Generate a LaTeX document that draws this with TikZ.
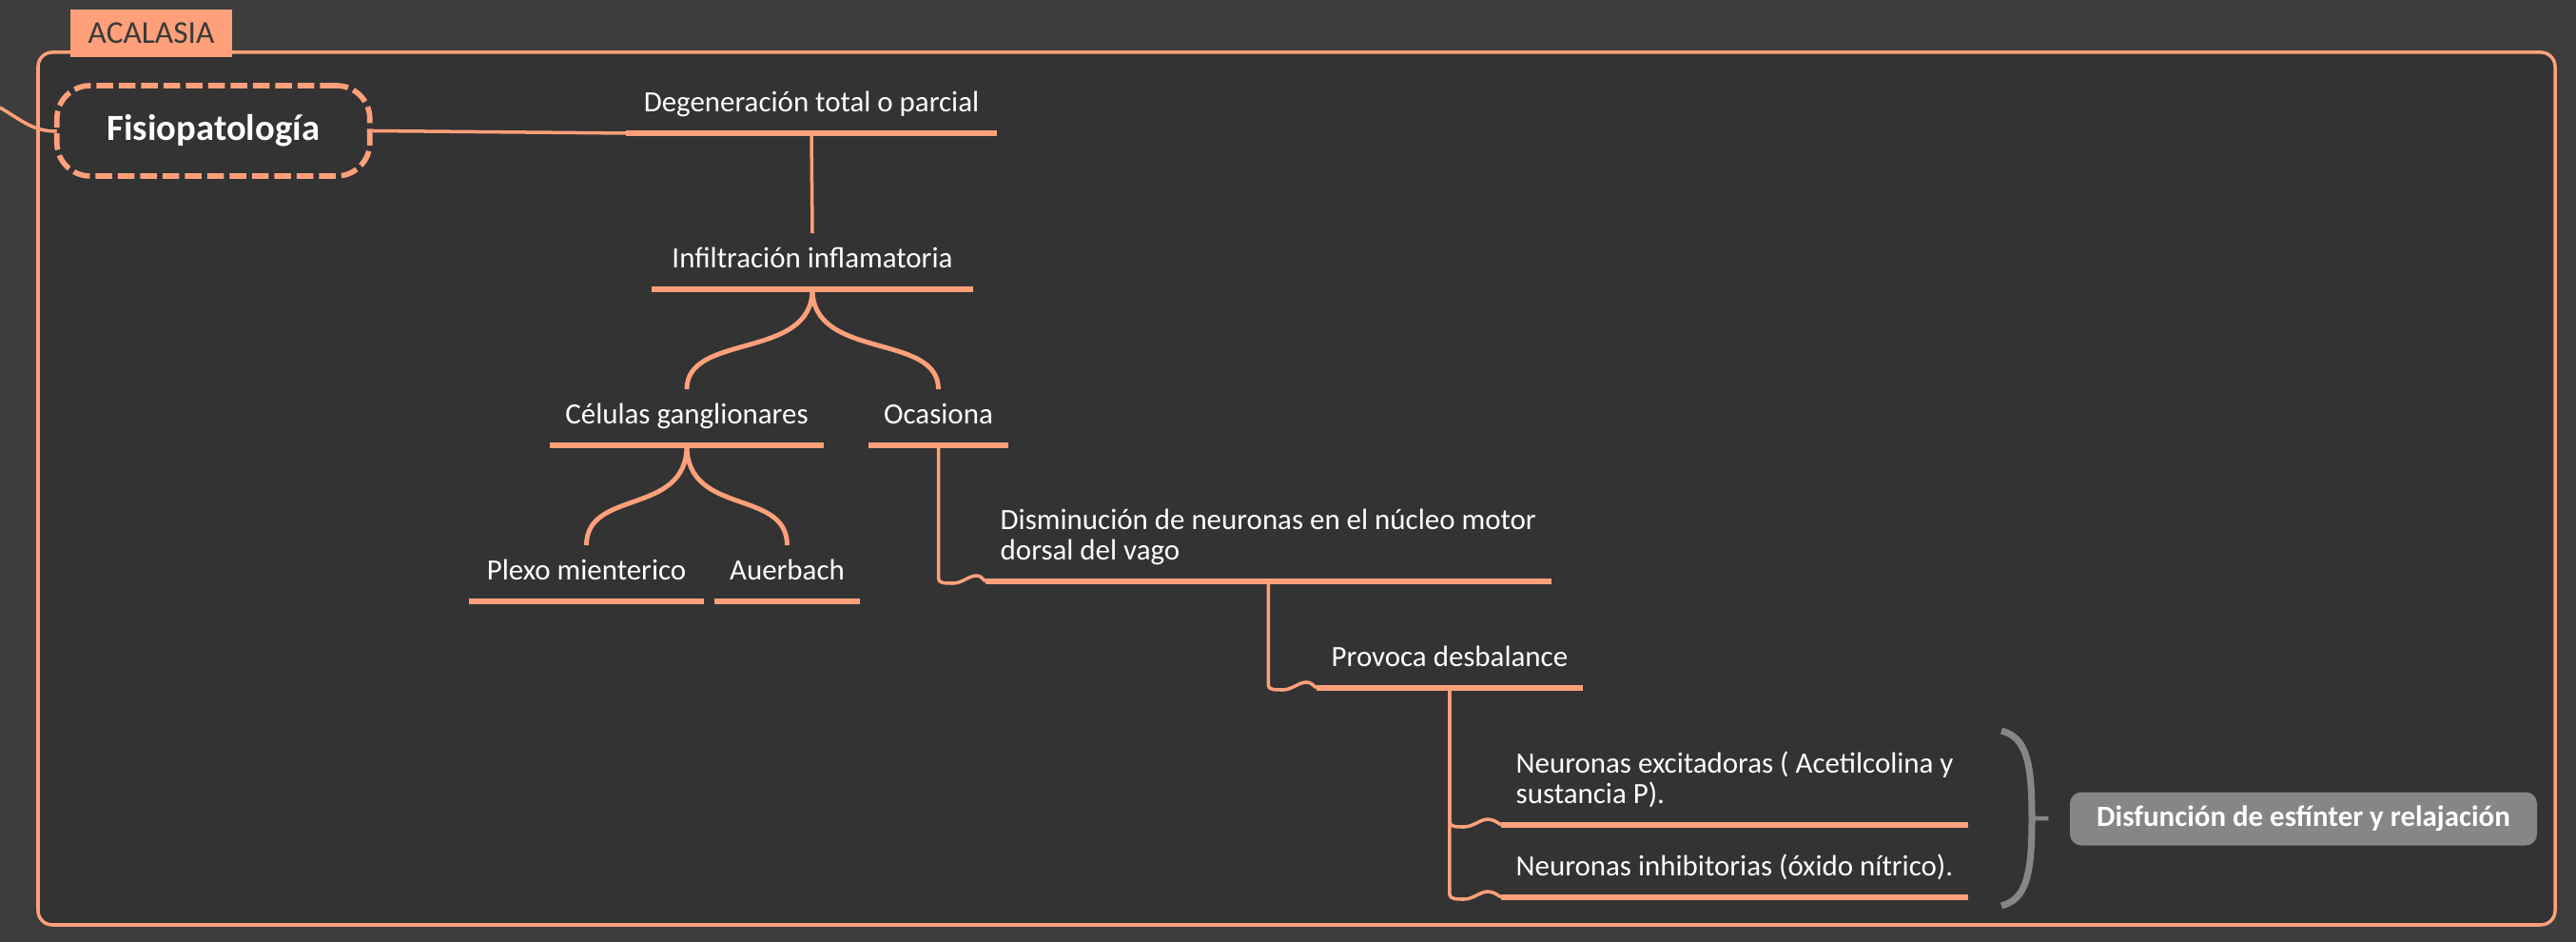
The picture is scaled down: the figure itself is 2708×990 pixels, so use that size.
\documentclass[tikz,border=0pt]{standalone}
\usepackage{fontspec}
\setmainfont{Carlito}
\usetikzlibrary{calc}
\definecolor{salmon}{HTML}{FFA07A}
\definecolor{bgouter}{HTML}{3D3D3D}
\definecolor{bginner}{HTML}{333333}
\definecolor{boxgray}{HTML}{868686}
\definecolor{tabtext}{HTML}{3A3A3A}

\tikzset{
  topic/.style={text=white, font=\fontsize{8.8}{9.2}\selectfont,
    inner xsep=1.5mm, inner ysep=2.15mm, text height=1.45mm, text depth=0pt, anchor=south},
  sidetopic/.style={topic, anchor=south west, align=left},
  uline/.style={draw=salmon, line width=1.5pt},
  conn/.style={draw=salmon, line width=1pt},
  branch/.style={draw=salmon, line width=1.4pt},
  wave/.style={to path={-- ($(\tikztostart |- \tikztotarget)+(0,-3)$)
      .. controls +(0,5) and +(-8,0) .. ++(15,5)
      .. controls +(10,0) and +(-8,0) .. ++(25,-8)
      .. controls +(5,0) and +(-4,-3) .. (\tikztotarget)}}
}

\begin{document}
\begin{tikzpicture}[x=0.1mm, y=-0.1mm]
          \useasboundingbox (0,0) rectangle (2708,990);
          \fill[bgouter] (0,0) rectangle (2708,990);
          \draw[salmon, line width=1pt, fill=bginner, rounded corners=1.5mm]
                (40,55) rectangle (2686,972);
          \node[fill=salmon, text=tabtext, minimum width=17mm, minimum height=5mm,
                font=\fontsize{9.5}{10}\selectfont] (tab) at (159,35) {ACALASIA};

          \coordinate (inlink) at (0,113);
          \draw[conn] (inlink) .. controls (25,128) and (35,138) .. (60,138);
          \node[draw=salmon, line width=1.6pt, dash pattern=on 1.75mm off 0.6mm,
                rounded corners=3.5mm, fill=bginner, minimum width=32.9mm, minimum height=9.5mm,
                text=white, font=\fontsize{11}{12}\selectfont\bfseries]
                (fisio) at (224.3,137.5) {Fisiopatología};

          \node[topic, minimum width=38.8mm] (degen) at (853,140) {Degeneración total o parcial};
          \node[topic, minimum width=33.6mm] (infil) at (854,304) {Infiltración inflamatoria};
          \node[topic, minimum width=28.6mm] (celul) at (722,468) {Células ganglionares};
          \node[topic, minimum width=14.3mm] (ocas) at (986.5,468) {Ocasiona};
          \node[topic, minimum width=24.5mm] (plexo) at (616.5,632) {Plexo mienterico};
          \node[topic, minimum width=14.9mm] (auer) at (827.5,632) {Auerbach};
          \node[sidetopic] (dism) at (1036,611)
                {Disminución de neuronas en el núcleo motor\\dorsal del vago};
          \node[sidetopic] (prov) at (1384,723) {Provoca desbalance};
          \node[sidetopic] (excit) at (1578,867)
                {Neuronas excitadoras ( Acetilcolina y\\sustancia P).};
          \node[sidetopic] (inhib) at (1578,943) {Neuronas inhibitorias (óxido nítrico).};

          \foreach \n in {degen,infil,celul,ocas,plexo,auer,dism,prov,excit,inhib}
                \draw[uline] (\n.south west) -- (\n.south east);

          \draw[conn] (fisio.east) -- (degen.south west);
          \draw[conn] (degen.south) -- (infil.north);
          \draw[branch] (infil.south) .. controls +(0,75) and +(0,-60) .. (celul.north);
          \draw[branch] (infil.south) .. controls +(0,75) and +(0,-60) .. (ocas.north);
          \draw[branch] (celul.south) .. controls +(0,75) and +(0,-60) .. (plexo.north);
          \draw[branch] (celul.south) .. controls +(0,75) and +(0,-60) .. (auer.north);
          \draw[conn] (ocas.south) to[wave] (dism.south west);
          \draw[conn] (dism.south) to[wave] (prov.south west);
          \draw[conn] (prov.south) to[wave] (excit.south west);
          \draw[conn] (prov.south) to[wave] (inhib.south west);

          % summary
          \node[fill=boxgray, rounded corners=1.2mm, minimum width=49.1mm, minimum height=5.6mm,
                text=white, font=\fontsize{8.8}{10}\selectfont\bfseries]
                (disf) at (2421.5,860.5) {Disfunción de esfínter y relajación};
          \coordinate (btop) at (2104,768);
          \coordinate (bbot) at (2104,952);
          \coordinate (bmid) at (2136,860);
          \draw[boxgray, line width=2pt] (btop) .. controls (2130,775) and (2136,800) .. (bmid)
                .. controls (2136,920) and (2130,945) .. (bbot);
          \draw[boxgray, line width=1.3pt, shorten >=2.2mm] (bmid) -- (disf.west);
      \end{tikzpicture}
\end{document}
